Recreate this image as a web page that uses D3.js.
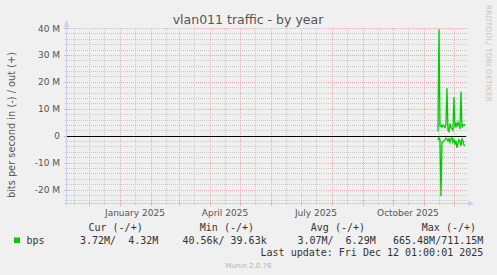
<!DOCTYPE html>
<html>
<head>
<meta charset="utf-8">
<script src="https://cdn.jsdelivr.net/npm/d3@7"></script>
<style>
  body { margin: 0; background: #F0F0F0; }
  svg { display: block; }
</style>
</head>
<body>
<div id="container"></div>
<script>
// daily values for the last weeks (bits per second, in millions)
const days = ["2025-11-15","2025-11-16","2025-11-17","2025-11-18","2025-11-19","2025-11-20","2025-11-21",
  "2025-11-22","2025-11-23","2025-11-24","2025-11-25","2025-11-26","2025-11-27","2025-11-28","2025-11-29",
  "2025-11-30","2025-12-01","2025-12-02","2025-12-03","2025-12-04","2025-12-05","2025-12-06","2025-12-07",
  "2025-12-08","2025-12-09","2025-12-10","2025-12-11","2025-12-12"];
const outValues = [1.6, 39.4, 3.5, 3.8, 3.2, 4.0, 3.6, 3.0, 4.2, 17.7, 2.0, 1.5, 4.5, 3.0, 2.5, 2.0,
  14.4, 3.0, 4.8, 3.5, 5.0, 4.0, 2.5, 16.4, 3.0, 4.0, 3.8, 4.32];
const inValues = [1.7, 0.6, 1.5, 22.5, 2.5, 2.2, 2.0, 1.5, 0.9, 1.2, 2.0, 1.2, 2.5, 1.0, 0.8, 2.5,
  1.5, 3.0, 1.8, 4.5, 3.0, 1.5, 2.0, 3.8, 1.0, 2.0, 3.5, 3.72];
const yTicks = [-20, -10, 0, 10, 20, 30, 40];
const monthLabels = ["January 2025", "April 2025", "July 2025", "October 2025"];
const legendHeaders = ["Cur (-/+)", "Min (-/+)", "Avg (-/+)", "Max (-/+)"];
const legendValues = ["3.72M/  4.32M", "40.56k/ 39.63k", "3.07M/  6.29M", "665.48M/711.15M"];

const width = 497, height = 275;
const endTime = new Date(2025, 11, 12, 1, 0, 1);
const startTime = d3.timeDay.offset(endTime, -400);
const plotLeft = 66.5, plotRight = 468, plotTop = 28, plotBottom = 203;

const svg = d3.select("#container").append("svg")
    .attr("width", width)
    .attr("height", height);

svg.append("rect").attr("width", width).attr("height", height).attr("fill", "#F0F0F0");

const x = d3.scaleTime().domain([startTime, endTime]).range([65, 465]);
const y = d3.scaleLinear().domain([-25, 40]).range([plotBottom, plotTop]);

const parse = d3.timeParse("%Y-%m-%d");
const data = days.map((d, i) => ({ t: parse(d), out: outValues[i], inn: inValues[i] }));

const grid = svg.append("g").attr("shape-rendering", "crispEdges");
const minorColor = "#C8C8C8", majorColor = "#EBB0B0";

// minor horizontal grid every 2M
d3.range(-24, 41, 2).filter(v => v % 10 !== 0).forEach(v => {
    const yy = Math.round(y(v)) + 0.5;
    grid.append("line").attr("x1", plotLeft).attr("x2", plotRight).attr("y1", yy).attr("y2", yy)
        .attr("stroke", minorColor).attr("stroke-dasharray", "1,1");
    grid.append("line").attr("x1", plotLeft - 2).attr("x2", plotLeft).attr("y1", yy).attr("y2", yy)
        .attr("stroke", minorColor);
});

// minor vertical grid (mid-month) and major (month start)
const months = d3.timeMonth.range(d3.timeMonth.ceil(startTime), endTime);
const mids = d3.timeMonth.range(d3.timeMonth.floor(startTime), endTime).map(m => d3.timeDay.offset(m, 15))
    .filter(d => d > startTime && d < endTime);
mids.forEach(d => {
    const xx = Math.round(x(d)) + 0.5;
    grid.append("line").attr("x1", xx).attr("x2", xx).attr("y1", plotTop).attr("y2", plotBottom)
        .attr("stroke", minorColor).attr("stroke-dasharray", "1,1");
    grid.append("line").attr("x1", xx).attr("x2", xx).attr("y1", plotBottom).attr("y2", plotBottom + 2)
        .attr("stroke", minorColor);
});
months.forEach(d => {
    const xx = Math.round(x(d)) + 0.5;
    grid.append("line").attr("x1", xx).attr("x2", xx).attr("y1", plotTop).attr("y2", plotBottom)
        .attr("stroke", majorColor).attr("stroke-dasharray", "1,1");
    grid.append("line").attr("x1", xx).attr("x2", xx).attr("y1", plotBottom - 2).attr("y2", plotBottom + 3)
        .attr("stroke", majorColor);
});
yTicks.forEach(v => {
    const yy = Math.round(y(v)) + 0.5;
    grid.append("line").attr("x1", plotLeft).attr("x2", plotRight).attr("y1", yy).attr("y2", yy)
        .attr("stroke", majorColor).attr("stroke-dasharray", "1,1");
    grid.append("line").attr("x1", plotLeft - 3).attr("x2", plotLeft + 2).attr("y1", yy).attr("y2", yy)
        .attr("stroke", majorColor);
});

// y tick labels
svg.append("g").selectAll("text").data(yTicks).join("text")
    .attr("x", 60).attr("y", d => y(d) + 3.5)
    .attr("text-anchor", "end")
    .attr("font-family", "DejaVu Sans").attr("font-size", 9).attr("fill", "#555")
    .text(d => d === 0 ? "0" : d + " M");

// x labels, centred on the middle of the month
svg.append("g").selectAll("text").data(monthLabels).join("text")
    .attr("x", d => x(d3.timeDay.offset(d3.timeParse("%B %Y")(d), 15)))
    .attr("y", 216)
    .attr("text-anchor", "middle")
    .attr("font-family", "DejaVu Sans").attr("font-size", 9).attr("fill", "#555")
    .text(d => d);

// axes with arrows
const axisColor = "#C8D0F4";
svg.append("line").attr("x1", plotLeft).attr("x2", plotLeft).attr("y1", 24).attr("y2", plotBottom + 3)
    .attr("stroke", axisColor).attr("shape-rendering", "crispEdges");
svg.append("line").attr("x1", plotLeft - 3).attr("x2", 470).attr("y1", plotBottom + 0.5).attr("y2", plotBottom + 0.5)
    .attr("stroke", axisColor).attr("shape-rendering", "crispEdges");
svg.append("path").attr("d", `M${plotLeft - 3},27 L${plotLeft},20 L${plotLeft + 3},27 Z`).attr("fill", axisColor);
svg.append("path").attr("d", `M468,${plotBottom - 2.5} L474,${plotBottom + 0.5} L468,${plotBottom + 3.5} Z`).attr("fill", axisColor);

// zero rule
svg.append("line").attr("x1", plotLeft).attr("x2", 466).attr("y1", Math.round(y(0)) + 0.5).attr("y2", Math.round(y(0)) + 0.5)
    .attr("stroke", "#000").attr("shape-rendering", "crispEdges");

// series
const lineOut = d3.line().x(d => x(d.t)).y(d => y(d.out));
const lineIn = d3.line().x(d => x(d.t)).y(d => y(-d.inn));
svg.append("path").datum(data).attr("d", lineOut)
    .attr("fill", "none").attr("stroke", "#00CC00").attr("stroke-width", 1.3);
svg.append("path").datum(data).attr("d", lineIn)
    .attr("fill", "none").attr("stroke", "#00CC00").attr("stroke-width", 1.3);

// title
svg.append("text").attr("x", 248).attr("y", 24).attr("text-anchor", "middle")
    .attr("font-family", "DejaVu Sans").attr("font-size", 12.5).attr("fill", "#555")
    .text("vlan011 traffic - by year");

// vertical unit label
svg.append("text").attr("transform", "translate(15,125) rotate(-90)")
    .attr("text-anchor", "middle")
    .attr("font-family", "DejaVu Sans").attr("font-size", 9.8).attr("fill", "#555")
    .text("bits per second in (-) / out (+)");

// rrdtool watermark
svg.append("text").attr("transform", "translate(485.5,5) rotate(90)")
    .attr("font-family", "DejaVu Sans").attr("font-size", 7.5).attr("fill", "#C4C4C4")
    .attr("textLength", 97).attr("lengthAdjust", "spacing")
    .text("RRDTOOL/ TOBI OETIKER");

// legend
const mono = "DejaVu Sans Mono";
const headEnds = [142.7, 254, 365, 476];
const valEnds = [158.3, 266.7, 375.7, 483.3];
svg.append("g").selectAll("text").data(legendHeaders).join("text")
    .attr("x", (d, i) => headEnds[i]).attr("y", 231).attr("text-anchor", "end")
    .attr("font-family", mono).attr("font-size", 10).attr("fill", "#333")
    .style("white-space", "pre").text(d => d);
svg.append("rect").attr("x", 14).attr("y", 237.5).attr("width", 6).attr("height", 5.5).attr("fill", "#00CC00");
svg.append("text").attr("x", 26.5).attr("y", 243.5)
    .attr("font-family", mono).attr("font-size", 10).attr("fill", "#333").text("bps");
svg.append("g").selectAll("text").data(legendValues).join("text")
    .attr("x", (d, i) => valEnds[i]).attr("y", 243.5).attr("text-anchor", "end")
    .attr("font-family", mono).attr("font-size", 10).attr("fill", "#333")
    .style("white-space", "pre").text(d => d);
svg.append("text").attr("x", 483.3).attr("y", 255.5).attr("text-anchor", "end")
    .attr("font-family", mono).attr("font-size", 10).attr("fill", "#333")
    .text("Last update: Fri Dec 12 01:00:01 2025");
svg.append("text").attr("x", 248.5).attr("y", 267.5).attr("text-anchor", "middle")
    .attr("font-family", "DejaVu Sans").attr("font-size", 7).attr("fill", "#B4B4B4")
    .text("Munin 2.0.76");
</script>
</body>
</html>
